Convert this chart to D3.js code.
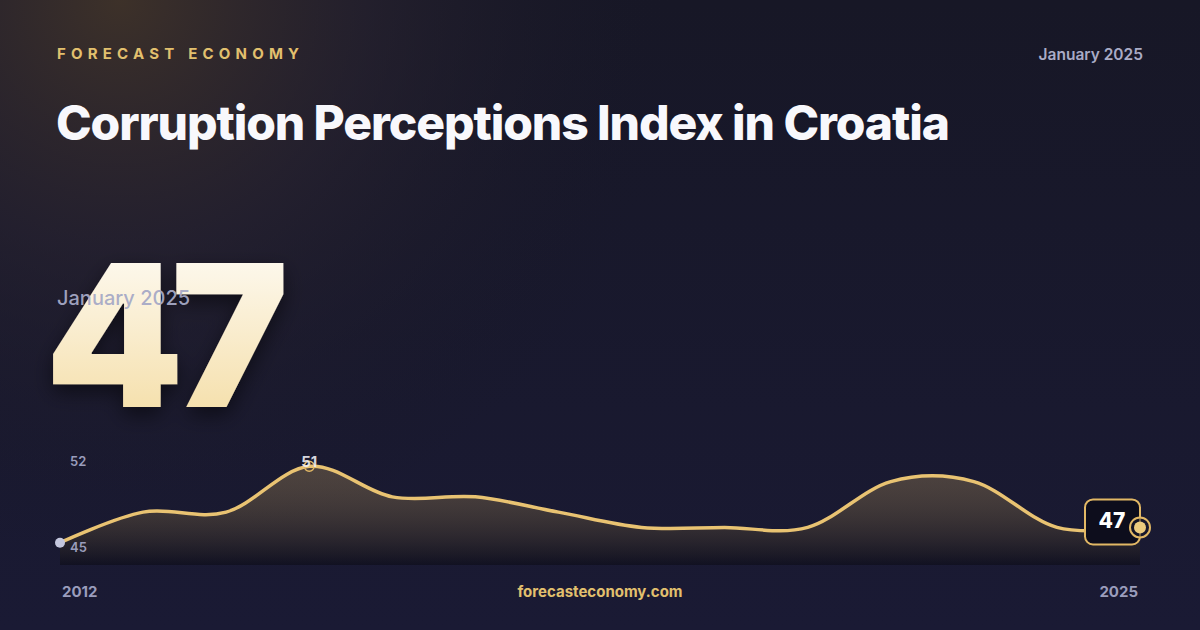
<!DOCTYPE html>
<html><head><meta charset="utf-8">
<script src="https://cdn.jsdelivr.net/npm/d3@7"></script>
<style>
html,body{margin:0;padding:0;background:#171729;}
svg{display:block;}
</style></head>
<body>
<svg id="c" width="1200" height="630"></svg>
<script>
const years = [2012,2013,2014,2015,2016,2017,2018,2019,2020,2021,2022,2023,2024,2025];
const values = [46,48,48,51,49,49,48,47,47,47,50,50,47,47];
const yTicks = [45,52];
const xTickLabels = ["2012","2025"];
const brand = "FORECAST ECONOMY";
const dateLabel = "January 2025";
const title = "Corruption Perceptions Index in Croatia";
const latest = "47";
const footer = "forecasteconomy.com";

const W=1200,H=630;
const svg=d3.select("#c");
const defs=svg.append("defs");

// background
const bg=defs.append("linearGradient").attr("id","bg").attr("x1",0).attr("y1",0).attr("x2",0).attr("y2",1);
bg.append("stop").attr("offset","0%").attr("stop-color","#171726");
bg.append("stop").attr("offset","100%").attr("stop-color","#1a1a34");
svg.append("rect").attr("width",W).attr("height",H).attr("fill","url(#bg)");
const glow=defs.append("radialGradient").attr("id","glow").attr("gradientUnits","userSpaceOnUse")
  .attr("cx",120).attr("cy",0).attr("r",560);
glow.append("stop").attr("offset","0%").attr("stop-color","#3d3129").attr("stop-opacity",1);
glow.append("stop").attr("offset","45%").attr("stop-color","#2a2430").attr("stop-opacity",0.6);
glow.append("stop").attr("offset","100%").attr("stop-color","#171726").attr("stop-opacity",0);
svg.append("rect").attr("width",W).attr("height",H).attr("fill","url(#glow)");

// header
svg.append("text").attr("x",57).attr("y",59).text(brand)
  .attr("font-family","Inter").attr("font-weight",700).attr("font-size",15)
  .attr("letter-spacing",5.2).attr("fill","#e2c06e");
svg.append("text").attr("x",1143).attr("y",60).attr("text-anchor","end").text(dateLabel)
  .attr("font-family","Inter").attr("font-weight",600).attr("font-size",15.5).attr("fill","#a9abc6");
svg.append("text").attr("x",56).attr("y",140).text(title)
  .attr("font-family","Inter").attr("font-weight",800).attr("font-size",48)
  .attr("letter-spacing",-1.1).attr("fill","#f8f8fc");

// big number
const ng=defs.append("linearGradient").attr("id","ng").attr("x1",0).attr("y1",0).attr("x2",0).attr("y2",1);
ng.append("stop").attr("offset","0%").attr("stop-color","#ffffff");
ng.append("stop").attr("offset","100%").attr("stop-color","#f3d99a");
const sh=defs.append("filter").attr("id","sh").attr("x","-20%").attr("y","-20%").attr("width","150%").attr("height","150%");
sh.append("feDropShadow").attr("dx",0).attr("dy",8).attr("stdDeviation",10).attr("flood-color","#000").attr("flood-opacity",0.5);
svg.append("text").attr("x",45).attr("y",407).text(latest)
  .attr("font-family","Inter").attr("font-weight",900).attr("font-size",198)
  .attr("letter-spacing",-13).attr("fill","url(#ng)").attr("filter","url(#sh)");
svg.append("text").attr("x",57).attr("y",305).text(dateLabel)
  .attr("font-family","Inter").attr("font-weight",500).attr("font-size",20).attr("fill","#a6a9c6").attr("fill-opacity",0.95);

// chart
const x=d3.scaleLinear().domain([0,years.length-1]).range([60,1140]);
const y=d3.scaleLinear().domain([d3.min(yTicks),d3.max(yTicks)]).range([558,451]);
const base=565;
const ag=defs.append("linearGradient").attr("id","ag").attr("gradientUnits","userSpaceOnUse")
  .attr("x1",0).attr("y1",y(52)).attr("x2",0).attr("y2",base);
ag.append("stop").attr("offset","0%").attr("stop-color","#e8c070").attr("stop-opacity",0.25);
ag.append("stop").attr("offset","100%").attr("stop-color","#0a0a14").attr("stop-opacity",0.55);
const curve=d3.curveCardinal.tension(0);
const area=d3.area().x((d,i)=>x(i)).y0(base).y1(d=>y(d)).curve(curve);
const line=d3.line().x((d,i)=>x(i)).y(d=>y(d)).curve(curve);
svg.append("path").datum(values).attr("d",area).attr("fill","url(#ag)");
svg.append("path").datum(values).attr("d",line).attr("fill","none")
  .attr("stroke","#e9c372").attr("stroke-width",3.5).attr("stroke-linejoin","round").attr("stroke-linecap","round");

// y labels
svg.selectAll("text.yl").data(yTicks).join("text").attr("class","yl")
  .attr("x",70).attr("y",d=>d===d3.max(yTicks)?466:552).text(d=>d)
  .attr("font-family","Inter").attr("font-weight",600).attr("font-size",13).attr("fill","#9a9dbc");

// first point
svg.append("circle").attr("cx",x(0)).attr("cy",y(values[0])).attr("r",5).attr("fill","#c4c7de");

// peak
const pi=values.indexOf(d3.max(values));
svg.append("circle").attr("cx",x(pi)).attr("cy",y(values[pi])).attr("r",5)
  .attr("fill","none").attr("stroke","#e2b865").attr("stroke-width",1.5);
svg.append("text").attr("x",x(pi)).attr("y",y(values[pi])+1).attr("text-anchor","middle").text(values[pi])
  .attr("font-family","Inter").attr("font-weight",700).attr("font-size",15).attr("fill","#f0f0f6").attr("fill-opacity",0.9);

// last point
const li=values.length-1, lx=x(li), ly=y(values[li]);
svg.append("rect").attr("x",lx-55).attr("y",ly-28).attr("width",55).attr("height",45).attr("rx",8)
  .attr("fill","#0d0d1c").attr("stroke","#e2b865").attr("stroke-width",2);
svg.append("text").attr("x",lx-28).attr("y",ly+1).attr("text-anchor","middle").text(values[li])
  .attr("font-family","Inter").attr("font-weight",800).attr("font-size",21).attr("fill","#ffffff");
svg.append("circle").attr("cx",lx).attr("cy",ly).attr("r",10).attr("fill","#171729")
  .attr("fill-opacity",0.6).attr("stroke","#e2b865").attr("stroke-width",2);
svg.append("circle").attr("cx",lx).attr("cy",ly).attr("r",6).attr("fill","#eccb7e");

// footer
svg.append("text").attr("x",62).attr("y",597).text(xTickLabels[0])
  .attr("font-family","Inter").attr("font-weight",700).attr("font-size",15).attr("fill","#9a9dbc");
svg.append("text").attr("x",1138).attr("y",597).attr("text-anchor","end").text(xTickLabels[1])
  .attr("font-family","Inter").attr("font-weight",700).attr("font-size",15).attr("fill","#9a9dbc");
svg.append("text").attr("x",600).attr("y",597).attr("text-anchor","middle").text(footer)
  .attr("font-family","Inter").attr("font-weight",700).attr("font-size",15).attr("fill","#e2c06e");
</script>
</body></html>
